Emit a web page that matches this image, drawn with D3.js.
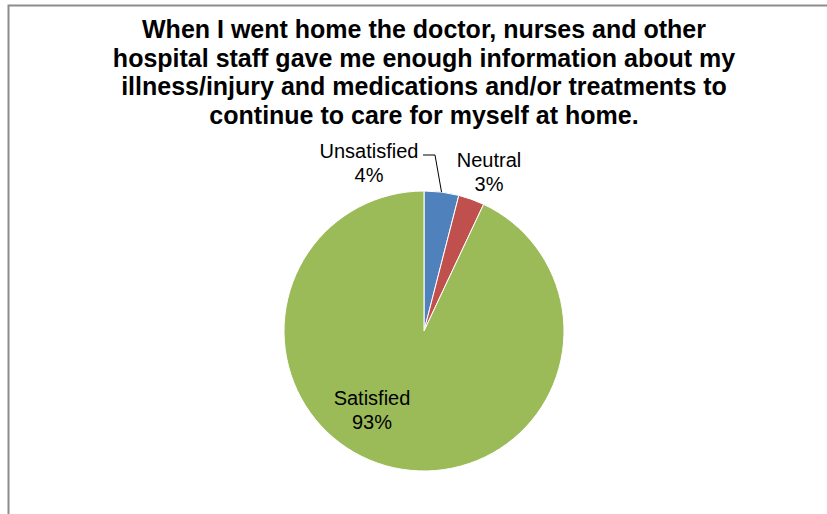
<!DOCTYPE html>
<html lang="en">
<head>
  <meta charset="UTF-8">
  <title>Discharge information pie</title>
  <script src="https://d3js.org/d3.v7.min.js"></script>
  <style>
    body { margin: 0; background: #fff; }
    svg { display: block; font-family: "Liberation Sans", Arial, sans-serif; }
  </style>
</head>
<body>
  <svg width="827" height="514"></svg>
  <script>
    // Data
    const categories = ["Unsatisfied", "Neutral", "Satisfied"];
    const values = [4, 3, 93];
    const colors = ["#4F81BD", "#C0504D", "#9BBB59"];
    const titleLines = [
      "When I went home the doctor, nurses and other",
      "hospital staff gave me enough information about my",
      "illness/injury and medications and/or treatments to",
      "continue to care for myself at home."
    ];

    const svg = d3.select("svg");
    const cx = 424, cy = 331, r = 140;

    // chart area border (runs off the right and bottom)
    svg.append("rect")
      .attr("x", 8.5).attr("y", 5.5)
      .attr("width", 900).attr("height", 600)
      .attr("fill", "none")
      .attr("stroke", "#8c8c8c")
      .attr("stroke-width", 2);

    // title
    svg.append("g").selectAll("text")
      .data(titleLines)
      .join("text")
      .attr("x", cx)
      .attr("y", (d, i) => 38 + i * 28.5)
      .attr("text-anchor", "middle")
      .attr("font-size", 25)
      .attr("font-weight", "bold")
      .text(d => d);

    const data = categories.map((c, i) => ({ name: c, value: values[i], color: colors[i] }));
    const pie = d3.pie().value(d => d.value).sort(null);
    const arc = d3.arc().innerRadius(0).outerRadius(r);
    const arcs = pie(data);

    const g = svg.append("g").attr("transform", `translate(${cx},${cy})`);
    g.selectAll("path")
      .data(arcs)
      .join("path")
      .attr("d", arc)
      .attr("fill", d => d.data.color)
      .attr("stroke", "#fff")
      .attr("stroke-width", 1);

    // label positions (relative to pie centre, first-line baseline)
    const labelPos = {
      Unsatisfied: [-55, -173],
      Neutral: [65, -164],
      Satisfied: [-52, 74]
    };

    const lab = g.selectAll("g.lab")
      .data(arcs)
      .join("g")
      .attr("class", "lab")
      .attr("transform", d => `translate(${labelPos[d.data.name]})`);
    lab.append("text")
      .attr("text-anchor", "middle")
      .attr("font-size", 20)
      .attr("fill", "#000")
      .text(d => d.data.name);
    lab.append("text")
      .attr("y", 23.5)
      .attr("text-anchor", "middle")
      .attr("font-size", 20)
      .attr("fill", "#000")
      .text(d => d.data.value + "%");

    // leader line for the small Unsatisfied slice
    const u = arcs[0];
    const mid = (u.startAngle + u.endAngle) / 2;
    const ex = Math.sin(mid) * r, ey = -Math.cos(mid) * r;
    g.append("polyline")
      .attr("points", `-1,-176 11,-176 ${ex},${ey}`)
      .attr("fill", "none")
      .attr("stroke", "#000")
      .attr("stroke-width", 1);
  </script>
</body>
</html>
